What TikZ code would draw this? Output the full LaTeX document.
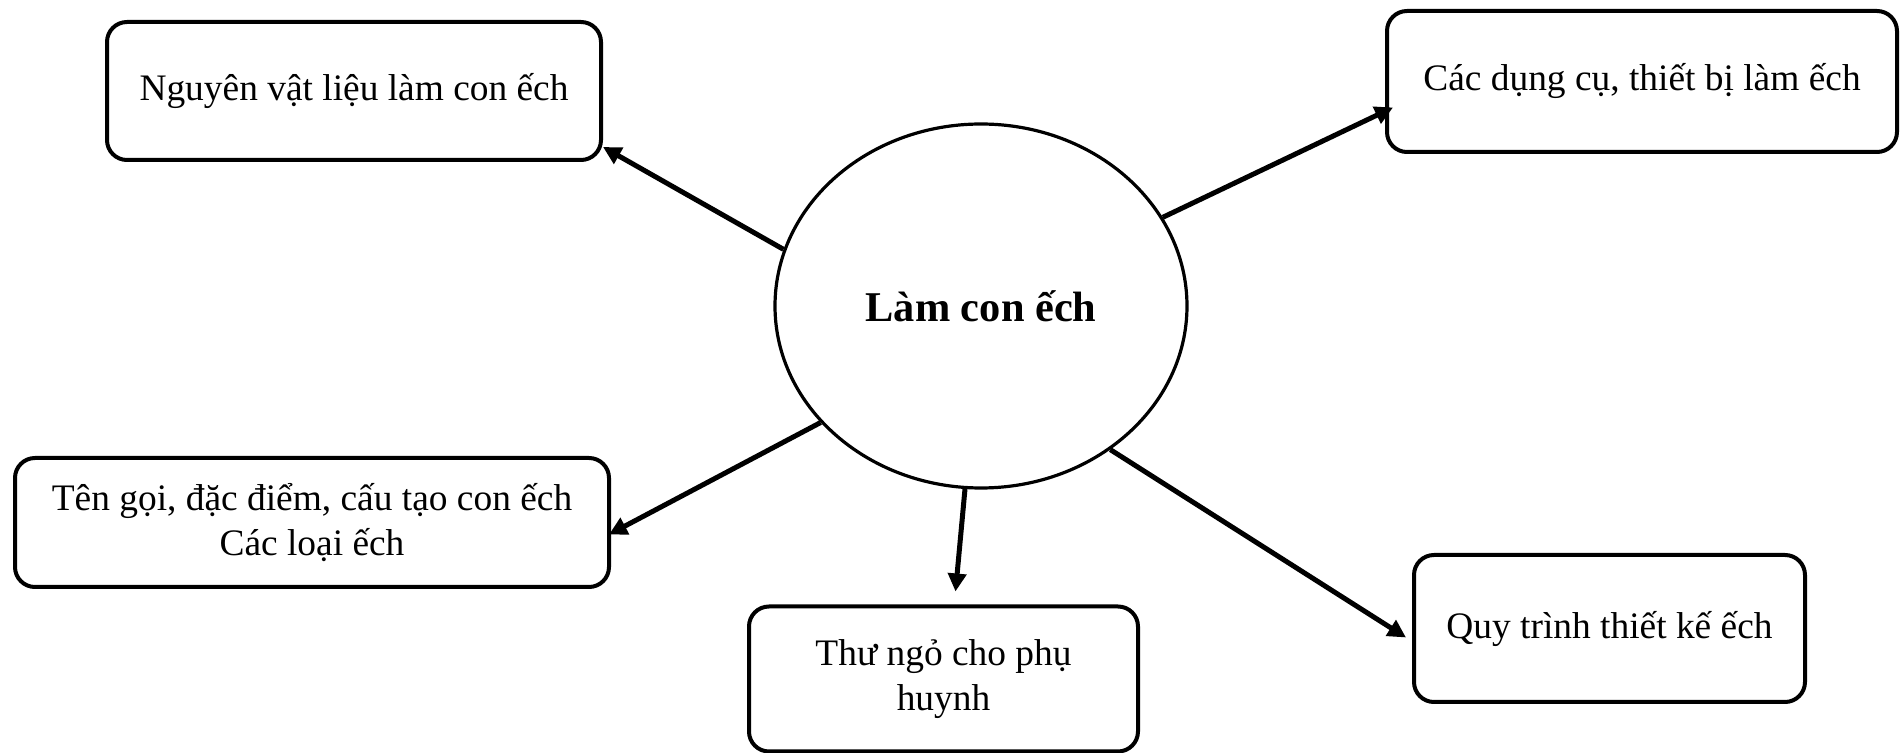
\documentclass[tikz,border=0pt]{standalone}
\usepackage{fontspec}
\setmainfont{Liberation Serif}
\usetikzlibrary{shapes.geometric,arrows.meta}
\begin{document}
\begin{tikzpicture}[x=0.5pt,y=-0.5pt,
    topic/.style={draw,line width=2pt,rounded corners=10pt,align=center,
        font=\fontsize{18.7}{22.3}\selectfont,inner sep=0pt},
    hub/.style={draw,ellipse,line width=1.6pt,inner sep=0pt,
        minimum width=206pt,minimum height=182pt,
        font=\fontsize{21.2}{25}\selectfont\bfseries}]
\useasboundingbox (0,0) rectangle (1903,753);
    \node[hub] (frog) at (981,306) {Làm con ếch};
    \node[topic,minimum width=247pt,minimum height=69pt] (material) at (354,91) {Nguyên vật liệu làm con ếch};
    \node[topic,minimum width=255pt,minimum height=70.5pt] (tools) at (1642,81.5) {Các dụng cụ, thiết bị làm ếch};
    \node[topic,minimum width=297pt,minimum height=64.5pt] (names) at (312,522.5) {Tên gọi, đặc điểm, cấu tạo con ếch\\Các loại ếch};
    \node[topic,minimum width=194.5pt,minimum height=72.5pt] (letter) at (943.5,679) {Thư ngỏ cho phụ\\huynh};
    \node[topic,minimum width=195.5pt,minimum height=73.5pt] (process) at (1609.5,628.5) {Quy trình thiết kế ếch};
\begin{scope}[black,line width=2.5pt,-{Triangle[length=9pt,width=9pt]}]
    \draw (frog.164.7) -- ([yshift=7.5pt]material.south east);
    \draw (frog.26.6) -- ([shift={(4pt,-13pt)}]tools.west);
    \draw (frog.216.9) -- ([shift={(-1pt,-6pt)}]names.east);
    \draw (frog.265) -- ([shift={(6pt,6.5pt)}]letter.north);
    \draw (frog.312.3) -- ([shift={(-3pt,-4.5pt)}]process.west);
\end{scope}
\end{tikzpicture}
\end{document}
